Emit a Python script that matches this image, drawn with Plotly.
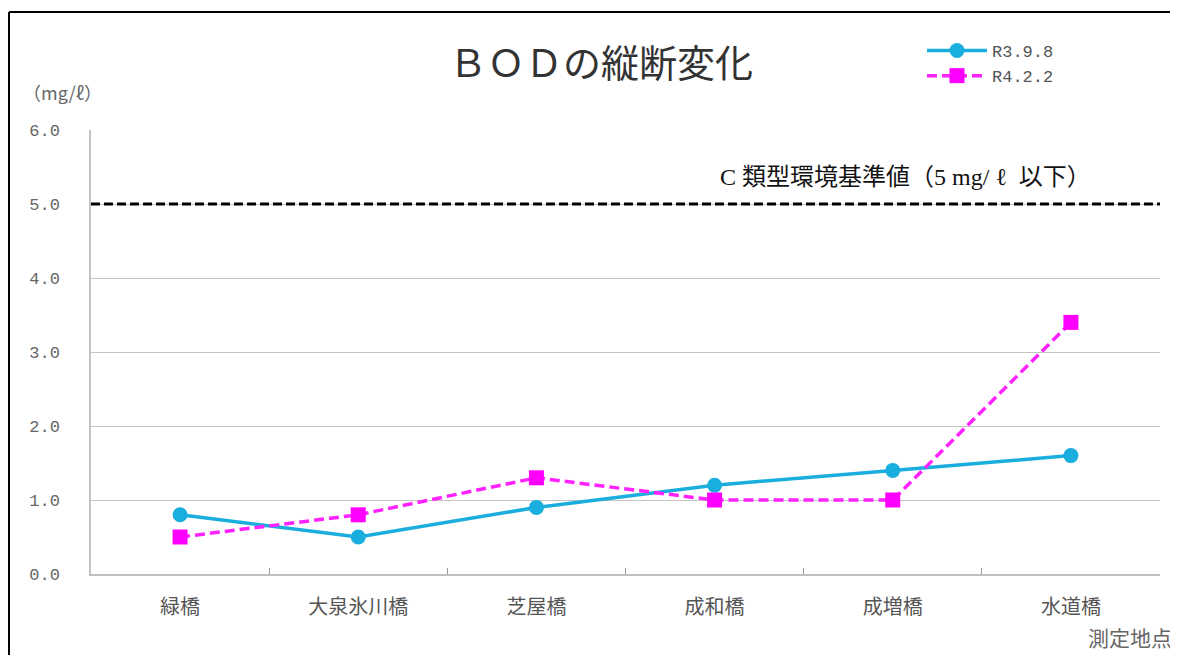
import plotly.graph_objects as go

categories = ["緑橋", "大泉氷川橋", "芝屋橋", "成和橋", "成増橋", "水道橋"]
r3_values = [0.8, 0.5, 0.9, 1.2, 1.4, 1.6]
r4_values = [0.5, 0.8, 1.3, 1.0, 1.0, 3.4]
series_names = ["R3.9.8", "R4.2.2"]
standard_value = 5.0
y_ticks = [0.0, 1.0, 2.0, 3.0, 4.0, 5.0, 6.0]
y_tick_text = ["0.0", "1.0", "2.0", "3.0", "4.0", "5.0", "6.0"]

OFF = 8  # page body margin offset
W, H = 1178 - OFF, 655 - OFF
L, R, T, B = 91 - OFF, 18, 130 - OFF, 81
pw, ph = W - L - R, H - T - B

def px(x):  # reference page px -> paper
    return (x - OFF - L) / pw

def py(y):
    return (H - B - (y - OFF)) / ph

sans = "Noto Sans CJK JP, sans-serif"
serif = "Liberation Serif, Noto Sans CJK JP, serif"
mono = "Liberation Mono, DejaVu Sans Mono, monospace"

fig = go.Figure()
fig.add_trace(go.Scatter(
    x=categories, y=r3_values, name=series_names[0], mode="lines+markers",
    line=dict(color="#1aaede", width=3.5),
    marker=dict(symbol="circle", size=15, color="#1aaede"),
))
fig.add_trace(go.Scatter(
    x=categories, y=r4_values, name=series_names[1], mode="lines+markers",
    line=dict(color="#ff22ff", width=3.5, dash="10px,5px"),
    marker=dict(symbol="square", size=15, color="#ff00ff"),
))

fig.add_shape(type="line", xref="paper", yref="y", x0=0, x1=1,
              y0=standard_value, y1=standard_value,
              line=dict(color="black", width=3, dash="9px,4px"))

# outer frame (top and left)
fig.add_shape(type="line", xref="paper", yref="paper",
              x0=px(9), x1=px(1190), y0=py(12), y1=py(12),
              line=dict(color="black", width=2))
fig.add_shape(type="line", xref="paper", yref="paper",
              x0=px(9), x1=px(9), y0=py(12), y1=py(670),
              line=dict(color="black", width=2))

fig.add_annotation(text="ＢＯＤの縦断変化", xref="paper", yref="paper",
                   x=px(601), y=py(60), xanchor="center", yanchor="middle",
                   showarrow=False,
                   font=dict(family=sans, size=38, color="#333333"))
fig.add_annotation(text="C 類型環境基準値（5 mg/ ℓ  以下）", xref="paper", yref="paper",
                   x=px(905), y=py(177), xanchor="center", yanchor="middle",
                   showarrow=False,
                   font=dict(family=serif, size=24, color="#111111"))
fig.add_annotation(text="（mg/ℓ）", xref="paper", yref="paper",
                   x=px(62), y=py(92), xanchor="center", yanchor="middle",
                   showarrow=False,
                   font=dict(family=sans, size=18, color="#666666"))
fig.add_annotation(text="測定地点", xref="paper", yref="paper",
                   x=px(1130), y=py(637), xanchor="center", yanchor="middle",
                   showarrow=False,
                   font=dict(family=sans, size=21, color="#666666"))

fig.update_layout(
    width=W, height=H,
    margin=dict(l=L, r=R, t=T, b=B),
    paper_bgcolor="white", plot_bgcolor="white",
    showlegend=True,
    legend=dict(x=px(922), y=py(33), xanchor="left", yanchor="top",
                font=dict(family=mono, size=17, color="#555555"),
                bgcolor="rgba(0,0,0,0)", itemwidth=60, tracegroupgap=0),
    font=dict(family=sans),
)
fig.update_xaxes(
    type="category", range=[-0.5, 5.5], showgrid=False,
    showline=True, linecolor="#bfbfbf", linewidth=1.5,
    ticks="inside", tickson="boundaries", ticklen=6, tickcolor="#999999",
    tickfont=dict(family=sans, size=20, color="#555555"),
    ticklabelstandoff=14,
)
fig.update_yaxes(
    range=[0, 6], tickvals=y_ticks, ticktext=y_tick_text,
    showgrid=True, gridcolor="#c4c4c4", gridwidth=1,
    showline=True, linecolor="#c4c4c4", linewidth=1.5,
    ticks="", zeroline=False,
    tickfont=dict(family=mono, size=17, color="#666666"),
    ticklabelstandoff=26,
)

fig.write_html("out.html")
